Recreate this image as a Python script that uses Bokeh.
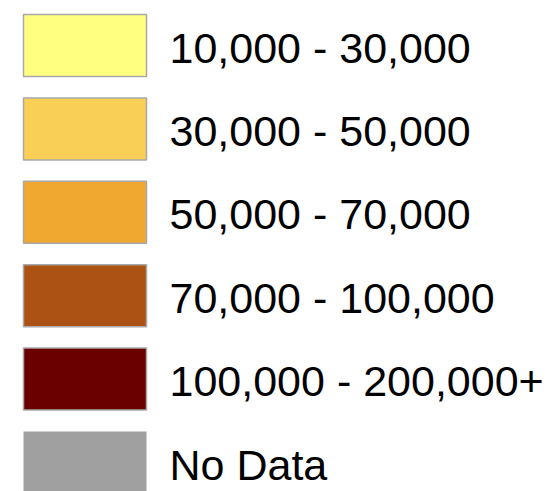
from bokeh.plotting import figure
from bokeh.models import Range1d, ColumnDataSource
from bokeh.embed import file_html
from bokeh.resources import INLINE
from bokeh.core.properties import value

# Legend classes
labels = ["10,000 - 30,000", "30,000 - 50,000", "50,000 - 70,000",
          "70,000 - 100,000", "100,000 - 200,000+", "No Data"]
colors = ["#FFFF80", "#F9CF56", "#F0A830", "#AC5214", "#6B0000", "#A0A0A0"]

W, H = 554, 491
p = figure(width=W, height=H, output_backend="svg", toolbar_location=None,
           x_range=Range1d(0, W), y_range=Range1d(H, 0),
           min_border=0, outline_line_color=None)
p.axis.visible = False
p.grid.visible = False
p.background_fill_color = "white"
p.border_fill_color = "white"

top0, step, bh = 14, 83.4, 62
idx = list(range(len(labels)))
tops = [top0 + i * step for i in idx]
bottoms = [t + bh for t in tops]
lefts = [23] * len(idx)
rights = [146] * len(idx)
mids = [t + bh / 2 + 2 for t in tops]
xs = [169] * len(idx)

src = ColumnDataSource(dict(left=lefts[:5], right=rights[:5], top=tops[:5],
                            bottom=bottoms[:5], color=colors[:5]))
p.quad(left="left", right="right", top="top", bottom="bottom", source=src,
       fill_color="color", line_color="#A8A8A8", line_width=1.5)
p.quad(left=lefts[5], right=rights[5], top=tops[5], bottom=bottoms[5] + 4,
       fill_color=colors[5], line_color=None)

tsrc = ColumnDataSource(dict(x=xs, y=mids, text=labels))
p.text(x="x", y="y", text="text", source=tsrc, text_font=value("Liberation Sans"),
       text_font_size="43px", text_color="black", text_baseline="middle",
       text_align="left")

open("out.html", "w").write(file_html(p, INLINE))
